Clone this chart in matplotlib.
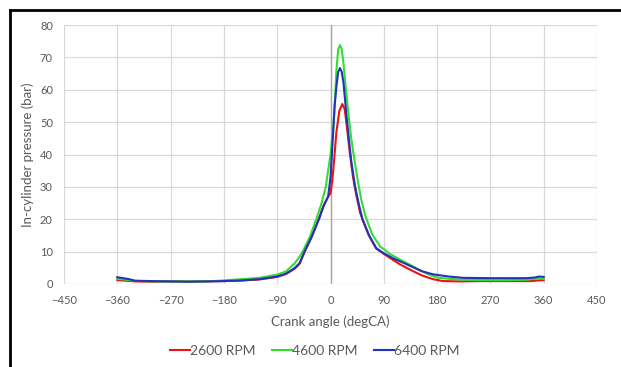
import matplotlib.pyplot as plt
from matplotlib.lines import Line2D

plt.rcParams['font.family'] = ['Lato', 'DejaVu Sans']

# crank angle (deg) and pressure (bar)
ang_2600 = [-360, -330, -300, -270, -240, -210, -180, -150, -120, -90, -75, -60, -52, -44, -32, -20, -12, -4, 0, 3, 6, 10, 15, 20, 24, 28, 33, 38, 43, 50, 56, 65, 77, 90, 105, 118, 140, 155, 173, 190, 220, 250, 280, 310, 340, 350, 360]
p_2600 = [1.2, 0.8, 0.7, 0.8, 0.8, 0.8, 0.9, 1.1, 1.4, 2.2, 3.1, 4.8, 6.3, 9.8, 14.5, 20, 24, 27, 28, 32, 38, 47, 53.5, 55.6, 54, 48, 40, 33, 28, 22, 19, 15, 11, 9.3, 7.5, 6.0, 3.9, 2.6, 1.5, 0.9, 0.8, 0.9, 0.9, 0.9, 0.9, 1.1, 1.2]

ang_4600 = [-360, -330, -300, -270, -240, -210, -180, -150, -120, -90, -75, -60, -52, -47, -35, -24, -15, -8, -4, 0, 5, 7, 10, 13, 16, 19, 22, 25, 30, 35, 39, 46, 52, 59, 70, 84, 90, 100, 118, 139, 150, 165, 180, 200, 224, 270, 300, 330, 350, 360]
p_4600 = [1.6, 1.0, 0.8, 0.8, 0.8, 0.8, 1.1, 1.5, 1.9, 2.9, 3.9, 6.5, 8.5, 10, 14.5, 20, 25, 30, 35, 40, 49, 55, 66, 72.5, 73.8, 72.5, 68, 62, 53, 45, 40, 32, 26, 21, 15.5, 11.5, 10.8, 9.3, 7.5, 5.5, 4.3, 3.0, 2.0, 1.6, 1.3, 1.2, 1.2, 1.3, 1.7, 1.6]

ang_6400 = [-360, -340, -330, -300, -270, -240, -210, -180, -150, -120, -90, -75, -60, -52, -44, -32, -19.5, -12, -4, 0, 3, 7, 10, 13, 16, 19, 22, 27, 32, 35, 41.6, 48, 54, 65, 77.5, 90, 105, 120, 139, 155, 173, 200, 224, 270, 300, 330, 345, 352, 360]
p_6400 = [2.1, 1.5, 1.0, 0.9, 0.8, 0.7, 0.8, 0.9, 1.1, 1.5, 2.3, 3.2, 5.0, 6.5, 10, 14.5, 20, 24, 27, 33, 42, 55, 61, 65.5, 66.7, 65.5, 62, 52, 43, 38, 30, 24.5, 20, 15, 11, 9.5, 8.0, 6.8, 5.2, 3.9, 3.0, 2.3, 1.9, 1.8, 1.8, 1.8, 2.0, 2.3, 2.2]

xticks = list(range(-450, 451, 90))
yticks = list(range(0, 81, 10))

fig = plt.figure(figsize=(6.21, 3.67), dpi=100)
ax = fig.add_axes([64 / 621, 1 - 284 / 367, 533 / 621, 259 / 367])

ax.plot(ang_2600, p_2600, color='#ee1111', lw=1.5, label='2600 RPM', zorder=3)
ax.plot(ang_4600, p_4600, color='#33dd33', lw=1.5, label='4600 RPM', zorder=3)
ax.plot(ang_6400, p_6400, color='#2233bb', lw=1.5, label='6400 RPM', zorder=4)

ax.set_xlim(-450, 450)
ax.set_ylim(0, 80)
ax.set_xticks(xticks)
ax.set_yticks(yticks)
ax.grid(True, color='#d9d9d9', lw=0.9)
ax.axvline(0, color='#a6a6a6', lw=1, zorder=2)
for s in ax.spines.values():
    s.set_visible(False)
ax.tick_params(length=0, labelsize=8, colors='#595959', pad=8)

ax.set_xlabel('Crank angle (degCA)', fontsize=9.5, color='#595959', labelpad=7)
ax.set_ylabel('In-cylinder pressure (bar)', fontsize=9.5, color='#595959', labelpad=4)

fig.legend(loc='center', bbox_to_anchor=(0.507, 0.044), ncol=3, frameon=False,
           fontsize=10, handlelength=1.45, handletextpad=0.0, columnspacing=1.2,
           labelcolor='#595959')

# black frame from the screenshot (top and left edges)
fig.add_artist(Line2D([10 / 621, 10 / 621], [0, 1 - 10 / 367], color='black', lw=2, transform=fig.transFigure))
fig.add_artist(Line2D([10 / 621, 1], [1 - 10 / 367, 1 - 10 / 367], color='black', lw=2, transform=fig.transFigure))

fig.savefig('out.png', dpi=100)
